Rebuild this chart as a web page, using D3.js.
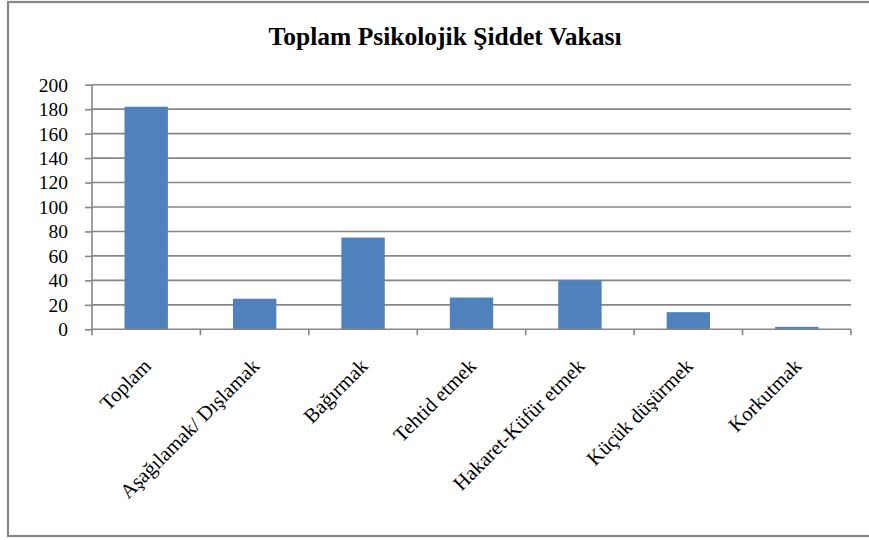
<!DOCTYPE html>
<html><head><meta charset="utf-8">
<script src="https://cdn.jsdelivr.net/npm/d3@7"></script>
<style>body{margin:0;background:#fff}svg{display:block}</style>
</head><body>
<script>
const categories = ["Toplam","Aşağılamak/ Dışlamak","Bağırmak","Tehtid etmek","Hakaret-Küfür etmek","Küçük düşürmek","Korkutmak"];
const values = [182,25,75,26,40,14,2];
const yTicks = [0,20,40,60,80,100,120,140,160,180,200];
const title = "Toplam Psikolojik Şiddet Vakası";

const W = 869, H = 540;
const m = {left:92, right:851, top:84.7, bottom:329.3};
const svg = d3.select("body").append("svg").attr("width",W).attr("height",H);
const font = "'Liberation Serif','Times New Roman',serif";

svg.append("rect").attr("x",8).attr("y",2).attr("width",875).attr("height",534)
  .attr("fill","#fff").attr("stroke","#868686").attr("stroke-width",2.2);

svg.append("text").attr("x",445).attr("y",45).attr("text-anchor","middle")
  .attr("font-family",font).attr("font-weight","bold").attr("font-size",25)
  .attr("textLength",353).attr("lengthAdjust","spacingAndGlyphs")
  .attr("fill","#000").text(title);

const x = d3.scaleBand().domain(categories).range([m.left,m.right]).paddingInner(0.6).paddingOuter(0.3);
const y = d3.scaleLinear().domain([0,200]).range([m.bottom,m.top]);

// gridlines
svg.append("g").selectAll("line").data(yTicks.filter(d=>d>0)).join("line")
  .attr("x1",m.left).attr("x2",m.right).attr("y1",d=>y(d)).attr("y2",d=>y(d))
  .attr("stroke","#868686").attr("stroke-width",1.6);

// y axis
const yAxis = d3.axisLeft(y).tickValues(yTicks).tickSize(7).tickPadding(17);
const gy = svg.append("g").attr("transform",`translate(${m.left},0)`).call(yAxis);
gy.select(".domain").attr("stroke","#868686").attr("stroke-width",1.6).attr("d",`M0,${m.top}V${m.bottom}`);
gy.selectAll(".tick line").attr("stroke","#868686").attr("stroke-width",1.6);
gy.selectAll(".tick text").attr("font-family",font).attr("font-size",19.5).attr("fill","#000").attr("dy","0.33em");

// bars
svg.append("g").selectAll("rect").data(values).join("rect")
  .attr("x",(d,i)=>x(categories[i])).attr("width",x.bandwidth())
  .attr("y",d=>y(d)).attr("height",d=>y(0)-y(d))
  .attr("fill","#4F81BD");

// x axis
const step = (m.right-m.left)/categories.length;
const bounds = d3.range(categories.length+1).map(i=>m.left+i*step);
const gx = svg.append("g");
gx.append("line").attr("x1",m.left).attr("x2",m.right).attr("y1",m.bottom).attr("y2",m.bottom)
  .attr("stroke","#868686").attr("stroke-width",1.6);
gx.selectAll("line.t").data(bounds).join("line").attr("class","t")
  .attr("x1",d=>d).attr("x2",d=>d).attr("y1",m.bottom).attr("y2",m.bottom+6)
  .attr("stroke","#868686").attr("stroke-width",1.6);

svg.append("g").selectAll("text").data(categories).join("text")
  .attr("transform",d=>`translate(${x(d)+x.bandwidth()/2+6},${m.bottom+38}) rotate(-45)`)
  .attr("text-anchor","end").attr("font-family",font).attr("font-size",20.5).attr("fill","#000")
  .text(d=>d);
</script>
</body></html>
